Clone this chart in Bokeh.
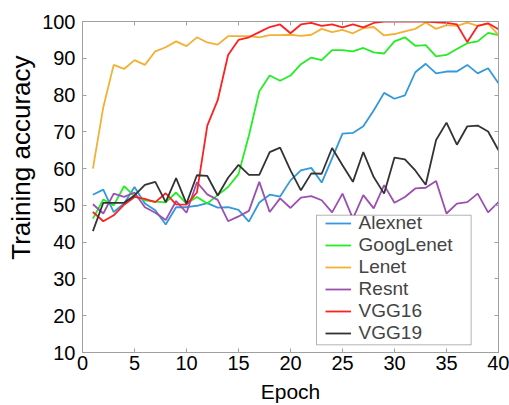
from bokeh.plotting import figure
from bokeh.models import (Range1d, LinearAxis, FixedTicker, Legend, LegendItem, Title, BoxAnnotation)
from bokeh.embed import file_html
from bokeh.resources import INLINE

epochs = list(range(1, 41))

alexnet = [52.9, 54.3, 48.2, 50.5, 55.0, 50.5, 48.7, 44.8, 49.5, 49.5,
           49.9, 50.6, 49.4, 49.5, 48.8, 45.6, 50.8, 52.9, 52.4, 56.8,
           59.5, 60.2, 56.2, 62.8, 69.5, 69.7, 71.5, 75.8, 80.6, 79.0,
           79.9, 86.2, 88.5, 85.9, 86.4, 86.4, 88.2, 85.9, 87.3, 83.2]
googlenet = [46.4, 51.6, 50.0, 55.2, 52.5, 51.4, 51.0, 50.8, 53.5, 50.5,
             52.3, 50.5, 52.8, 55.0, 58.5, 69.0, 81.0, 85.3, 83.9, 85.3,
             88.4, 90.2, 89.5, 92.2, 92.2, 91.9, 92.8, 91.6, 91.3, 94.6,
             95.7, 93.4, 93.6, 90.5, 90.9, 92.5, 94.1, 94.6, 96.9, 96.3]
lenet = [60.0, 76.7, 88.2, 87.1, 89.5, 88.2, 91.9, 93.0, 94.6, 93.3,
         95.7, 94.3, 93.7, 96.0, 96.0, 96.0, 95.7, 96.3, 96.3, 96.4,
         96.1, 96.4, 98.0, 97.1, 97.7, 96.8, 98.2, 98.5, 96.2, 96.6,
         97.3, 98.0, 99.7, 98.0, 99.0, 98.8, 99.7, 98.8, 99.4, 96.3]
resnt = [50.3, 47.8, 53.2, 52.3, 53.5, 49.5, 48.0, 46.0, 51.2, 48.0,
         56.3, 53.0, 51.5, 45.7, 47.0, 48.5, 56.4, 48.2, 51.9, 49.3,
         52.1, 52.5, 51.4, 48.1, 53.2, 46.4, 52.8, 49.2, 55.5, 50.7,
         52.3, 54.6, 54.8, 56.6, 47.8, 50.5, 50.9, 53.2, 48.1, 50.9]
vgg16 = [48.2, 45.7, 47.3, 50.2, 52.3, 51.8, 50.9, 53.3, 50.3, 50.2,
         53.5, 71.7, 78.6, 90.9, 95.0, 95.7, 97.1, 98.5, 99.2, 96.8,
         99.2, 99.6, 98.8, 99.2, 98.4, 99.2, 98.4, 99.6, 100.0, 100.0,
         100.0, 100.0, 100.0, 99.8, 99.6, 99.2, 94.4, 98.8, 99.5, 97.9]
vgg19 = [43.0, 50.7, 50.7, 50.7, 52.7, 55.6, 56.4, 50.9, 57.4, 50.5,
         58.2, 58.0, 52.7, 57.5, 61.0, 58.3, 58.3, 64.5, 65.7, 59.5,
         54.1, 58.7, 58.6, 65.6, 60.9, 56.4, 64.5, 57.7, 53.2, 63.0,
         62.5, 59.5, 55.6, 67.8, 72.5, 66.5, 71.5, 71.7, 70.1, 65.0]

series_names = ["Alexnet", "GoogLenet", "Lenet", "Resnt", "VGG16", "VGG19"]
series_values = [alexnet, googlenet, lenet, resnt, vgg16, vgg19]
series_colors = ["#3399dd", "#22ee22", "#f2b134", "#9b4fb0", "#ff2020", "#333333"]

x_ticks = [0, 5, 10, 15, 20, 25, 30, 35, 40]
y_ticks = [10, 20, 30, 40, 50, 60, 70, 80, 90, 100]

FONT = "Liberation Sans"
GRAY = "#a0a0a0"

p = figure(width=509, height=405, x_range=Range1d(0, 40), y_range=Range1d(10, 100),
           output_backend="svg", toolbar_location=None,
           min_border_left=82, min_border_right=11, min_border_top=21, min_border_bottom=52)
p.xgrid.visible = False
p.ygrid.visible = False
p.outline_line_color = GRAY
p.background_fill_color = "white"
p.border_fill_color = "white"

def style_axis(ax, ticks, show_labels):
    ax.ticker = FixedTicker(ticks=ticks)
    ax.axis_line_color = GRAY
    ax.major_tick_line_color = GRAY
    ax.major_tick_in = 4
    ax.major_tick_out = 0
    ax.minor_tick_line_color = None
    ax.major_label_text_font = FONT
    if show_labels:
        ax.major_label_text_font_size = "20px"
        ax.major_label_text_color = "black"
    else:
        ax.major_label_text_font_size = "1px"
        ax.major_label_text_color = None
        ax.major_label_standoff = 0

style_axis(p.xaxis[0], x_ticks, True)
style_axis(p.yaxis[0], y_ticks, True)
p.xaxis[0].major_label_standoff = 3
p.yaxis[0].major_label_standoff = 7
p.xaxis[0].axis_label = "Epoch"
p.xaxis[0].axis_label_text_font = FONT
p.xaxis[0].axis_label_text_font_size = "21px"
p.xaxis[0].axis_label_text_font_style = "normal"
p.xaxis[0].axis_label_text_color = "black"
p.xaxis[0].axis_label_standoff = 7

top_axis = LinearAxis()
style_axis(top_axis, x_ticks, False)
p.add_layout(top_axis, "above")
right_axis = LinearAxis()
style_axis(right_axis, y_ticks, False)
p.add_layout(right_axis, "right")

ytitle = Title(text="Training accuracy", align="right", offset=34, standoff=6,
               vertical_align="middle", text_font=FONT, text_font_size="26px",
               text_font_style="normal", text_color="black")
p.add_layout(ytitle, "left")

renderers = []
for name, vals, col in zip(series_names, series_values, series_colors):
    r = p.line(epochs, vals, line_color=col, line_width=1.8)
    renderers.append(r)

# legend frame (position of the legend box in the axes)
legend_box = BoxAnnotation(left=22.5, right=37.37, top=47.33, bottom=12.09,
                           fill_color="white", fill_alpha=1.0,
                           line_color="black", line_width=1, level="annotation")
p.add_layout(legend_box)

row_offsets = [118.3, 96.3, 74.3, 52.3, 30.3, 8.3]
for name, r, oy in zip(series_names, renderers, row_offsets):
    lg = Legend(items=[LegendItem(label=name, renderers=[r])], location=(242.6, oy),
                border_line_color=None, background_fill_alpha=0.0,
                label_text_font=FONT, label_text_font_size="19px",
                glyph_width=26, label_standoff=8, padding=0, spacing=0, margin=0)
    p.add_layout(lg)

open("out.html", "w").write(file_html(p, INLINE))
